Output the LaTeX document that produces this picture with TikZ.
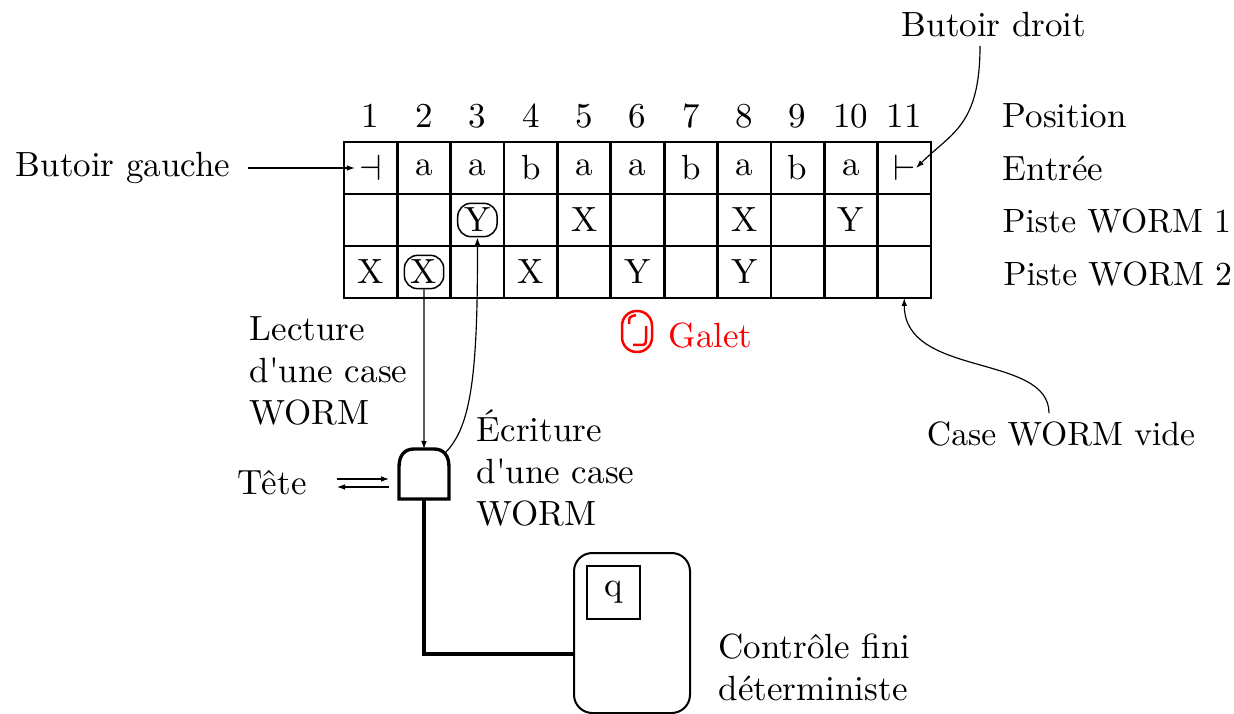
\documentclass[tikz,border=0pt]{standalone}
\usetikzlibrary{arrows.meta,calc}
\begin{document}
\begin{tikzpicture}[x=0.3pt,y=-0.3pt,
  font=\fontsize{10.5}{12.6}\selectfont,
  lbl/.style={inner sep=0pt, align=left},
  narrow/.style={font=\fontsize{10.1}{12.6}\selectfont},
  cellbox/.style={draw, line width=0.8pt, minimum width=16.008pt, minimum height=15.6pt, inner sep=0pt, outer sep=0pt},
  sym/.style={inner sep=0pt},
  ringed/.style={draw, line width=0.45pt, rounded corners=4pt, minimum width=11.8pt, minimum height=10pt, inner sep=0pt},
  tip/.style={-{Latex[length=2.4pt,width=1.7pt]}, line width=0.35pt},
  thick line/.style={line width=1pt}]
\useasboundingbox (0,0) rectangle (1234,714);

% tape: three tracks of eleven squares
\foreach \r/\yy in {1/168,2/220,3/272}
  \foreach \c in {1,...,11}
    \node[cellbox] (t\r-\c) at ({344+53.36*(\c-0.5)},\yy) {};

% position numbers
\foreach \c in {1,...,11}
  \node[sym] (n\c) at ({344+53.36*(\c-0.5)},116) {\c};

% input track
\foreach \c/\s in {1/$\dashv$,2/a,3/a,4/b,5/a,6/a,7/b,8/a,9/b,10/a,11/$\vdash$}
  \node[sym] (e\c) at (t1-\c) {\s};

% WORM track 1
\node[ringed] (w1-3) at (t2-3) {Y};
\node[sym] (w1-5) at (t2-5) {X};
\node[sym] (w1-8) at (t2-8) {X};
\node[sym] (w1-10) at (t2-10) {Y};

% WORM track 2
\node[sym] (w2-1) at (t3-1) {X};
\node[ringed] (w2-2) at (t3-2) {X};
\node[sym] (w2-4) at (t3-4) {X};
\node[sym] (w2-6) at (t3-6) {Y};
\node[sym] (w2-8) at (t3-8) {Y};

% row captions
\node[lbl, anchor=west] (lpos) at (1002,116) {Position};
\node[lbl, anchor=west] (lin) at (1002,168) {Entrée};
\node[lbl, narrow, anchor=west] (lw1) at (1002,221) {Piste WORM 1};
\node[lbl, narrow, anchor=west] (lw2) at (1003,274) {Piste WORM 2};

% end markers
\node[lbl] (bg) at (123,168) {Butoir gauche};
\node[lbl] (bd) at (994,25) {Butoir droit};
\draw[tip, shorten <=5.1pt, shorten >=1.2pt] (bg.east) -- (e1.west);
\draw[tip] ($(bd.south)+(-14,8)$) .. controls +(0,80) and +(35,-35) .. (e11.east);

% empty cell note
\node[lbl, narrow] (cv) at (1061,434) {Case WORM vide};
\draw[tip] ($(cv.north)+(-12,-8)$) .. controls +(0,-60) and +(0,80) .. (t3-11.south);

% pebble
\node[lbl, anchor=west, text=red] (galet) at (668,336) {Galet};
\begin{scope}[red, line width=0.75pt]
  \draw[rounded corners=4.4pt] (622,311) rectangle (652,352);
  \draw (629,324) .. controls (629,317) .. (636,315);
  \draw (646,326) -- (646,337) .. controls (646,345) .. (639,345) -- (633,345);
\end{scope}

% head
\coordinate (headtop) at (424,449);
\coordinate (headbot) at (424,499);
\coordinate (headne) at (445,453);
\draw[thick line] (399,499) -- (399,467) .. controls (399,456) and (404,449) .. (414,449)
  -- (434,449) .. controls (444,449) and (449,456) .. (449,467) -- (449,499) -- cycle;

\node[lbl] (tete) at (272,483) {Tête};
\coordinate (ta) at (337,479);
\coordinate (tb) at (389,479);
\coordinate (tc) at (389,487);
\coordinate (td) at (337,487);
\draw[tip] (ta) -- (tb);
\draw[tip] (tc) -- (td);

% read and write links
\node[lbl, anchor=west] (lect) at (249,371) {Lecture\\d\textquotesingle une case\\WORM};
\node[lbl, anchor=west] (ecr) at (476,468) {Écriture\\d\textquotesingle une case\\WORM};
\draw[tip] (w2-2.south) -- (headtop);
\draw[tip] (headne) .. controls (470,428) and (478,380) .. (w1-3.south);

% finite control
\node[draw, line width=0.6pt, rounded corners=5.5pt, minimum width=34.8pt, minimum height=48pt, inner sep=0pt] (ctrl) at (632,633) {};
\node[draw, line width=0.6pt, minimum size=15.9pt, inner sep=0pt] (q) at (613.5,592.5) {q};
\coordinate (ctrlin) at (574,654);
\draw[thick line] (headbot) |- (ctrlin);
\node[lbl, anchor=west] (cf) at (718,667) {Contrôle fini\\déterministe};
\end{tikzpicture}
\end{document}
